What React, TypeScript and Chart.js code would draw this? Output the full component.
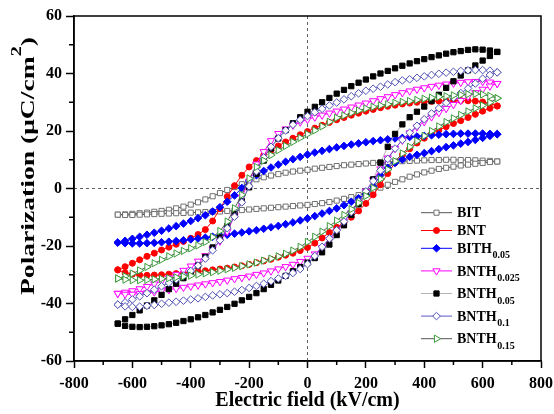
import React, { useEffect, useRef } from "react";
import { Chart, registerables } from "chart.js";

Chart.register(...registerables);

const FONT = "'Liberation Serif', 'Times New Roman', serif";

// Electric field sweep (kV/cm): descending branch, then ascending branch
const FIELD_DOWN = [
  650, 625, 600, 575, 550, 525, 500, 475, 450, 425, 400, 375, 350, 325, 300, 275, 250, 225,
  200, 175, 150, 125, 100, 75, 50, 25, 0, -25, -50, -75, -100, -125, -150, -175, -200, -225,
  -250, -275, -300, -325, -350, -375, -400, -425, -450, -475, -500, -525, -550, -575, -600, -625, -650,
];
const FIELD_UP = [
  -650, -625, -600, -575, -550, -525, -500, -475, -450, -425, -400, -375, -350, -325, -300, -275, -250, -225,
  -200, -175, -150, -125, -100, -75, -50, -25, 0, 25, 50, 75, 100, 125, 150, 175, 200, 225,
  250, 275, 300, 325, 350, 375, 400, 425, 450, 475, 500, 525, 550, 575, 600, 625, 650,
];

// Polarization (μC/cm²) on each branch
const BIT_DOWN = [
  9.4, 9.6, 9.7, 9.8, 9.9, 9.9, 10.0, 10.0, 9.9, 9.9, 9.8, 9.7, 9.6, 9.5, 9.4, 9.2, 9.1, 8.9,
  8.7, 8.5, 8.3, 8.1, 7.8, 7.5, 7.2, 6.9, 6.5, 6.2, 5.9, 5.5, 5.0, 4.5, 3.9, 3.2, 2.4, 1.5,
  0.5, -0.5, -1.6, -2.7, -3.8, -4.8, -5.6, -6.3, -6.9, -7.4, -7.8, -8.1, -8.4, -8.6, -8.8, -9.0, -9.1,
];
const BIT_UP = [
  -9.1, -9.2, -9.2, -9.1, -9.0, -8.9, -8.8, -8.7, -8.6, -8.5, -8.4, -8.3, -8.2, -8.1, -8.0, -7.8, -7.7, -7.5,
  -7.3, -7.1, -6.9, -6.7, -6.5, -6.3, -6.1, -5.9, -5.7, -5.4, -5.1, -4.7, -4.2, -3.6, -3.0, -2.3, -1.5, -0.7,
  0.3, 1.3, 2.3, 3.2, 4.1, 4.9, 5.6, 6.2, 6.8, 7.2, 7.6, 8.0, 8.3, 8.6, 8.9, 9.2, 9.4,
];

const BNT_DOWN = [
  28.7, 29.6, 30.1, 30.4, 30.5, 30.6, 30.6, 30.5, 30.4, 30.3, 30.2, 30.0, 29.7, 29.4, 29.0, 28.6, 28.1, 27.5,
  26.9, 26.2, 25.5, 24.7, 23.9, 23.0, 22.0, 21.0, 19.8, 18.7, 17.5, 16.2, 14.8, 13.3, 11.6, 9.7, 7.5, 4.6,
  1.0, -2.8, -7.0, -11.3, -14.3, -16.0, -17.3, -18.4, -19.4, -20.4, -21.4, -22.5, -23.6, -24.8, -26.0, -27.2, -28.3,
];
const BNT_UP = [
  -28.3, -29.3, -29.8, -30.1, -30.2, -30.1, -30.0, -29.8, -29.6, -29.4, -29.1, -28.9, -28.6, -28.3, -28.0, -27.7, -27.3, -26.9,
  -26.4, -25.8, -25.2, -24.6, -23.9, -23.2, -22.5, -21.6, -20.5, -19.0, -17.2, -15.3, -13.5, -11.8, -10.0, -7.8, -5.2, -2.2,
  1.3, 5.2, 9.0, 11.7, 13.8, 15.8, 17.5, 19.0, 20.3, 21.5, 22.6, 23.6, 24.7, 25.8, 26.9, 27.9, 28.7,
];

const BITH005_DOWN = [
  18.9, 19.0, 19.1, 19.1, 19.1, 19.1, 19.0, 18.9, 18.7, 18.5, 18.3, 18.1, 17.9, 17.6, 17.4, 17.1, 16.8, 16.5,
  16.1, 15.7, 15.3, 14.8, 14.3, 13.7, 13.1, 12.5, 11.8, 11.0, 10.2, 9.3, 8.3, 7.3, 6.1, 4.6, 2.6, 0.2,
  -2.4, -4.6, -6.5, -8.0, -9.3, -10.3, -11.3, -12.2, -13.1, -13.9, -14.7, -15.4, -16.1, -16.8, -17.5, -18.2, -18.8,
];
const BITH005_UP = [
  -18.8, -19.0, -19.1, -19.1, -19.0, -18.9, -18.7, -18.5, -18.3, -18.0, -17.7, -17.4, -17.1, -16.8, -16.4, -16.1, -15.7, -15.3,
  -14.9, -14.5, -14.0, -13.5, -13.0, -12.4, -11.8, -11.1, -10.4, -9.6, -8.7, -7.8, -6.9, -5.8, -4.6, -3.4, -2.0, 0.8,
  4.6, 7.2, 8.9, 10.1, 11.0, 11.7, 12.3, 13.0, 13.7, 14.4, 15.0, 15.6, 16.2, 16.9, 17.6, 18.3, 18.9,
];

const BNTH0025_DOWN = [
  36.5, 37.0, 37.2, 37.2, 37.1, 36.9, 36.6, 36.3, 35.9, 35.5, 35.0, 34.5, 33.9, 33.3, 32.6, 31.9, 31.2, 30.5,
  29.7, 29.0, 28.3, 27.6, 26.9, 26.2, 25.5, 24.8, 24.0, 23.1, 22.0, 20.7, 19.1, 16.6, 12.8, 8.5, 2.5, -3.0,
  -9.5, -15.0, -18.3, -21.0, -23.4, -25.3, -27.0, -28.5, -29.9, -31.1, -32.2, -33.2, -34.1, -34.9, -35.6, -36.1, -36.5,
];
const BNTH0025_UP = [
  -36.5, -36.8, -36.8, -36.6, -36.3, -36.0, -35.6, -35.2, -34.8, -34.4, -34.0, -33.6, -33.2, -32.8, -32.4, -31.9, -31.4, -31.0,
  -30.5, -29.9, -29.4, -28.7, -28.0, -27.2, -26.4, -25.4, -24.3, -22.8, -20.6, -17.8, -14.8, -11.7, -8.5, -4.9, -1.0, 3.0,
  6.8, 10.6, 13.9, 16.8, 19.3, 21.4, 23.2, 24.9, 26.4, 27.8, 29.2, 30.6, 32.0, 33.3, 34.5, 35.6, 36.5,
];

const BNTH005_DOWN = [
  47.5, 48.0, 48.3, 48.4, 48.2, 47.8, 47.4, 46.9, 46.3, 45.7, 45.0, 44.3, 43.5, 42.7, 41.8, 40.9, 40.0, 39.0,
  37.9, 36.8, 35.6, 34.3, 33.0, 31.5, 30.0, 28.4, 26.7, 24.8, 22.7, 20.3, 17.4, 13.9, 9.7, 5.1, 0.4, -4.4,
  -8.9, -13.1, -17.0, -20.5, -23.8, -26.8, -29.2, -31.2, -33.1, -35.0, -37.0, -38.9, -40.7, -42.4, -44.0, -45.5, -47.0,
];
const BNTH005_UP = [
  -47.0, -47.8, -48.1, -48.2, -48.1, -47.9, -47.6, -47.2, -46.7, -46.1, -45.5, -44.8, -44.0, -43.1, -42.2, -41.2, -40.1, -38.9,
  -37.7, -36.4, -35.0, -33.5, -32.0, -30.4, -28.8, -27.3, -25.8, -24.2, -22.2, -19.5, -16.2, -12.8, -9.2, -5.5, -1.4, 3.2,
  9.0, 14.5, 19.0, 22.3, 24.8, 26.7, 28.5, 30.4, 32.6, 35.0, 37.3, 39.3, 41.1, 42.8, 44.5, 46.1, 47.5,
];

const BNTH01_DOWN = [
  40.4, 41.0, 41.2, 41.2, 41.1, 40.9, 40.6, 40.3, 39.9, 39.5, 39.0, 38.5, 38.0, 37.6, 37.0, 36.2, 35.4, 34.7,
  34.0, 33.1, 32.1, 31.0, 29.9, 28.9, 27.7, 26.5, 25.2, 23.9, 22.2, 20.2, 17.5, 14.5, 10.8, 6.0, 0.8, -4.8,
  -9.8, -13.8, -18.0, -21.5, -24.4, -26.8, -28.7, -30.3, -31.6, -32.8, -34.0, -35.2, -36.4, -37.5, -38.6, -39.6, -40.4,
];
const BNTH01_UP = [
  -40.4, -41.0, -41.2, -41.1, -40.8, -40.5, -40.1, -39.7, -39.4, -39.0, -38.6, -38.2, -37.7, -37.2, -36.8, -36.4, -35.9, -35.3,
  -34.6, -33.9, -33.1, -32.2, -31.3, -30.4, -29.4, -28.0, -26.3, -23.5, -20.3, -17.4, -14.5, -11.5, -8.2, -4.5, -1.0, 2.6,
  6.3, 10.3, 13.9, 16.9, 19.4, 21.8, 24.1, 26.1, 27.9, 29.8, 31.6, 33.2, 34.8, 36.5, 38.2, 39.5, 40.4,
];

const BNTH015_DOWN = [
  31.4, 32.2, 32.7, 32.9, 32.8, 32.6, 32.4, 32.1, 31.9, 31.6, 31.2, 30.8, 30.4, 30.1, 29.8, 29.3, 28.9, 28.4,
  27.8, 27.1, 26.3, 25.4, 24.6, 23.2, 21.6, 20.2, 18.9, 17.6, 16.2, 14.8, 13.3, 11.6, 9.7, 7.5, 3.5, -2.2,
  -6.9, -11.5, -14.8, -16.9, -18.6, -19.8, -20.8, -21.7, -22.6, -23.6, -24.8, -26.0, -27.3, -28.5, -29.6, -30.5, -31.3,
];
const BNTH015_UP = [
  -31.3, -31.7, -31.9, -31.9, -31.8, -31.6, -31.4, -31.2, -30.9, -30.6, -30.3, -29.9, -29.5, -29.1, -28.6, -28.1, -27.6, -27.0,
  -26.4, -25.8, -25.1, -24.4, -23.6, -22.7, -21.6, -20.3, -18.6, -16.8, -15.0, -13.1, -11.2, -9.2, -7.2, -5.0, -2.6, 0.2,
  3.3, 6.6, 9.5, 12.2, 14.5, 16.5, 18.3, 20.0, 21.6, 23.1, 24.4, 25.6, 26.8, 27.9, 28.9, 29.9, 31.4,
];

// Legend labels: base name and subscript
const SERIES_NAMES = ["BIT", "BNT", "BITH", "BNTH", "BNTH", "BNTH", "BNTH"];
const SERIES_SUBS = ["", "", "0.05", "0.025", "0.05", "0.1", "0.15"];
const SERIES_DATA = [
  [BIT_DOWN, BIT_UP],
  [BNT_DOWN, BNT_UP],
  [BITH005_DOWN, BITH005_UP],
  [BNTH0025_DOWN, BNTH0025_UP],
  [BNTH005_DOWN, BNTH005_UP],
  [BNTH01_DOWN, BNTH01_UP],
  [BNTH015_DOWN, BNTH015_UP],
];

const X_TICK_STEP = 200;
const Y_TICK_STEP = 20;

type MarkerStyle = {
  line: string;
  stroke: string;
  fill: string;
  shape: "rect" | "circle" | "rectRot" | "triangle";
  radius: number;
  rotation: number;
};

const STYLES: MarkerStyle[] = [
  { line: "#555555", stroke: "#707070", fill: "#ffffff", shape: "rect", radius: 3.6, rotation: 0 },
  { line: "#ff0000", stroke: "#ff0000", fill: "#ff0000", shape: "circle", radius: 3, rotation: 0 },
  { line: "#0000ff", stroke: "#0000ff", fill: "#0000ff", shape: "rectRot", radius: 3.8, rotation: 0 },
  { line: "#ff00ff", stroke: "#ff00ff", fill: "#ffffff", shape: "triangle", radius: 4.2, rotation: 180 },
  { line: "#b4b4b4", stroke: "#000000", fill: "#000000", shape: "rect", radius: 3.7, rotation: 0 },
  { line: "#5b5bc0", stroke: "#5050b4", fill: "#ffffff", shape: "rectRot", radius: 3.8, rotation: 0 },
  { line: "#555555", stroke: "#3a9c3a", fill: "#ffffff", shape: "triangle", radius: 4.2, rotation: 90 },
];

function branchPoints(down: number[], up: number[]) {
  return [
    ...FIELD_DOWN.map((x, i) => ({ x, y: down[i] })),
    ...FIELD_UP.map((x, i) => ({ x, y: up[i] })),
  ];
}

function drawMarker(ctx: CanvasRenderingContext2D, s: MarkerStyle, x: number, y: number) {
  const r = s.radius;
  ctx.beginPath();
  if (s.shape === "circle") {
    ctx.arc(x, y, r, 0, Math.PI * 2);
  } else if (s.shape === "rect") {
    const h = Math.SQRT1_2 * r;
    ctx.rect(x - h, y - h, 2 * h, 2 * h);
  } else if (s.shape === "rectRot") {
    ctx.moveTo(x - r, y);
    ctx.lineTo(x, y - r);
    ctx.lineTo(x + r, y);
    ctx.lineTo(x, y + r);
    ctx.closePath();
  } else {
    let a = (s.rotation * Math.PI) / 180;
    ctx.moveTo(x + Math.sin(a) * r, y - Math.cos(a) * r);
    a += (2 * Math.PI) / 3;
    ctx.lineTo(x + Math.sin(a) * r, y - Math.cos(a) * r);
    a += (2 * Math.PI) / 3;
    ctx.lineTo(x + Math.sin(a) * r, y - Math.cos(a) * r);
    ctx.closePath();
  }
  ctx.fillStyle = s.fill;
  ctx.strokeStyle = s.stroke;
  ctx.lineWidth = 1;
  ctx.fill();
  ctx.stroke();
}

const decorPlugin = {
  id: "hysteresisDecor",
  beforeDatasetsDraw(chart: any) {
    const { ctx, chartArea: a, scales } = chart;
    const x0 = scales.x.getPixelForValue(0);
    const y0 = scales.y.getPixelForValue(0);
    ctx.save();
    ctx.strokeStyle = "#606060";
    ctx.lineWidth = 1;
    ctx.setLineDash([3, 3]);
    ctx.beginPath();
    ctx.moveTo(x0, a.top);
    ctx.lineTo(x0, a.bottom);
    ctx.moveTo(a.left, y0);
    ctx.lineTo(a.right, y0);
    ctx.stroke();
    ctx.restore();
  },
  afterDraw(chart: any) {
    const { ctx, chartArea: a, scales } = chart;
    const xs = scales.x;
    const ys = scales.y;
    ctx.save();

    // plot frame
    ctx.strokeStyle = "#000";
    ctx.lineWidth = 1.5;
    ctx.strokeRect(a.left, a.top, a.right - a.left, a.bottom - a.top);

    // minor ticks halfway between labelled ticks
    ctx.beginPath();
    for (let v = xs.min + X_TICK_STEP / 2; v < xs.max; v += X_TICK_STEP) {
      const px = xs.getPixelForValue(v);
      ctx.moveTo(px, a.bottom);
      ctx.lineTo(px, a.bottom + 4);
    }
    for (let v = ys.min + Y_TICK_STEP / 2; v < ys.max; v += Y_TICK_STEP) {
      const py = ys.getPixelForValue(v);
      ctx.moveTo(a.left, py);
      ctx.lineTo(a.left - 5, py);
    }
    ctx.stroke();

    // y-axis title with superscript, drawn rotated
    ctx.fillStyle = "#000";
    ctx.translate(34, 166);
    ctx.rotate(-Math.PI / 2);
    const mainFont = `bold 19px ${FONT}`;
    const supFont = `bold 14px ${FONT}`;
    const head = "Polarization (\u03bcC/cm";
    const sup = "2";
    const tail = ")";
    ctx.font = mainFont;
    const wHead = ctx.measureText(head).width;
    const wTail = ctx.measureText(tail).width;
    ctx.font = supFont;
    const wSup = ctx.measureText(sup).width;
    const total = wHead + wSup + wTail;
    ctx.scale(258 / total, 1);
    let tx = -total / 2;
    ctx.textBaseline = "alphabetic";
    ctx.font = mainFont;
    ctx.fillText(head, tx, 0);
    tx += wHead;
    ctx.font = supFont;
    ctx.fillText(sup, tx, -13);
    tx += wSup;
    ctx.font = mainFont;
    ctx.fillText(tail, tx, 0);
    ctx.restore();

    // legend
    ctx.save();
    const lx = a.right - 120;
    let ly = a.top + 196.7;
    ctx.textBaseline = "alphabetic";
    for (let i = 0; i < STYLES.length; i++) {
      const s = STYLES[i];
      ctx.strokeStyle = s.line;
      ctx.lineWidth = 1;
      ctx.beginPath();
      ctx.moveTo(lx, ly);
      ctx.lineTo(lx + 31, ly);
      ctx.stroke();
      drawMarker(ctx, s, lx + 15.5, ly);
      ctx.fillStyle = "#000";
      ctx.font = `bold 14px ${FONT}`;
      const tx0 = lx + 36;
      ctx.fillText(SERIES_NAMES[i], tx0, ly + 4.6);
      const w = ctx.measureText(SERIES_NAMES[i]).width;
      if (SERIES_SUBS[i]) {
        ctx.font = `bold 10px ${FONT}`;
        ctx.fillText(SERIES_SUBS[i], tx0 + w + 0.5, ly + 10);
      }
      ly += SERIES_SUBS[i] ? 22.6 : 17.8;
    }
    ctx.restore();
  },
};

export default function App() {
  const canvasRef = useRef<HTMLCanvasElement | null>(null);

  useEffect(() => {
    const canvas = canvasRef.current;
    if (!canvas) return;
    const n = SERIES_DATA.length;
    const datasets = SERIES_DATA.map(([down, up], i) => {
      const s = STYLES[i];
      return {
        label: SERIES_NAMES[i] + SERIES_SUBS[i],
        data: branchPoints(down, up),
        showLine: true,
        borderColor: s.line,
        borderWidth: 1,
        tension: 0,
        pointStyle: s.shape,
        pointRotation: s.rotation,
        pointRadius: s.radius,
        pointHoverRadius: s.radius,
        pointBackgroundColor: s.fill,
        pointBorderColor: s.stroke,
        pointBorderWidth: 1,
        order: n - i,
      };
    });

    const tickFont = { family: FONT, size: 16, weight: "bold" as const };

    const chart = new Chart(canvas, {
      type: "scatter",
      data: { datasets },
      plugins: [decorPlugin],
      options: {
        animation: false,
        responsive: false,
        devicePixelRatio: 1,
        layout: { padding: { left: 0, top: 16, right: 13, bottom: 0 } },
        plugins: {
          legend: { display: false },
          tooltip: { enabled: false },
        },
        scales: {
          x: {
            type: "linear",
            min: -800,
            max: 800,
            ticks: {
              stepSize: X_TICK_STEP,
              font: tickFont,
              color: "#000",
              padding: 6,
              maxRotation: 0,
              autoSkip: false,
            },
            grid: {
              drawOnChartArea: false,
              drawTicks: true,
              tickLength: 7,
              tickWidth: 1.5,
              tickColor: "#000",
            },
            border: { display: true, color: "#000", width: 1.5 },
            title: {
              display: true,
              text: "Electric field (kV/cm)",
              color: "#000",
              font: { family: FONT, size: 20, weight: "bold" },
              padding: { top: 0, bottom: 1 },
            },
            afterFit: (scale: any) => {
              scale.height = 53;
              scale.paddingLeft = 0;
              scale.paddingRight = 0;
            },
          },
          y: {
            type: "linear",
            min: -60,
            max: 60,
            ticks: {
              stepSize: Y_TICK_STEP,
              font: tickFont,
              color: "#000",
              padding: 4,
            },
            grid: {
              drawOnChartArea: false,
              drawTicks: true,
              tickLength: 8,
              tickWidth: 1.5,
              tickColor: "#000",
            },
            border: { display: true, color: "#000", width: 1.5 },
            afterFit: (scale: any) => {
              scale.width = 74;
              scale.paddingTop = 0;
              scale.paddingBottom = 0;
            },
          },
        },
      },
    });

    return () => chart.destroy();
  }, []);

  return (
    <div style={{ position: "absolute", left: 0, top: 0, width: 554, height: 414, background: "#fff" }}>
      <canvas ref={canvasRef} width={554} height={414} />
    </div>
  );
}
